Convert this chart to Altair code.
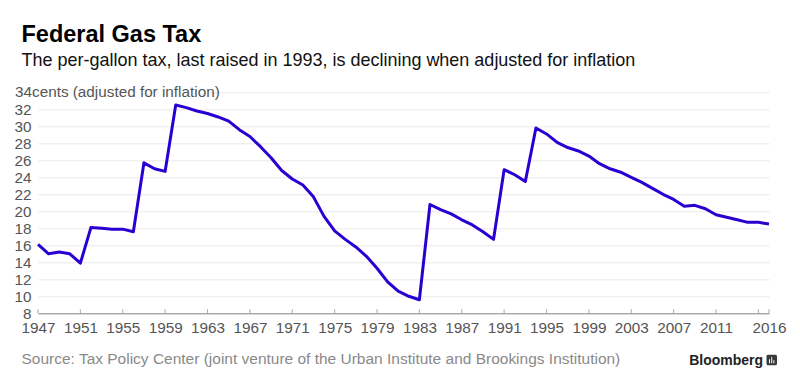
import altair as alt
import pandas as pd

years = list(range(1947, 2017))
cents = [16.1, 15.0, 15.2, 15.0, 13.9, 18.1, 18.0, 17.9, 17.9, 17.6,
         25.7, 25.0, 24.7, 32.5, 32.2, 31.8, 31.5, 31.1, 30.6, 29.6,
         28.8, 27.6, 26.3, 24.8, 23.8, 23.1, 21.7, 19.4, 17.7, 16.7,
         15.8, 14.7, 13.3, 11.7, 10.6, 10.0, 9.6, 20.8, 20.2, 19.7,
         19.0, 18.4, 17.6, 16.7, 24.9, 24.3, 23.5, 29.8, 29.1, 28.1,
         27.5, 27.1, 26.5, 25.6, 25.0, 24.6, 24.0, 23.4, 22.7, 22.0,
         21.4, 20.6, 20.7, 20.3, 19.6, 19.3, 19.0, 18.7, 18.7, 18.5]

x_ticks = list(range(1947, 2016, 4)) + [2016]
y_ticks = list(range(8, 35, 2))

title_text = "Federal Gas Tax"
subtitle_text = "The per-gallon tax, last raised in 1993, is declining when adjusted for inflation"
unit_text = "34cents (adjusted for inflation)"
source_text = "Source: Tax Policy Center (joint venture of the Urban Institute and Brookings Institution)"
brand_text = "Bloomberg"

FONT = "Liberation Sans"
W, H = 731, 221
LBL = 15.3

df = pd.DataFrame({"year": years, "cents": cents})

xscale = alt.Scale(domain=[1947, 2016], nice=False, zero=False)
yscale = alt.Scale(domain=[8, 34], nice=False, zero=False)

xaxis = alt.Axis(values=x_ticks, format="d", grid=False,
                 labelExpr="datum.value == 2015 ? '' : datum.label",
                 tickSize=0, labelPadding=7.5, labelFlush=False,
                 labelOverlap=False,
                 domainColor="#8a8a8a", labelColor="#555555",
                 labelFontSize=LBL, labelFont=FONT)
yaxis = alt.Axis(values=y_ticks, domain=False, ticks=False,
                 labelExpr="datum.value == 34 ? '' : datum.label",
                 labelOverlap=False,
                 gridColor="#e9e9e9", gridWidth=1,
                 labelPadding=7, labelColor="#555555",
                 labelFontSize=LBL, labelFont=FONT)

line = alt.Chart(df).mark_line(color="#2a00d2", strokeWidth=3, strokeJoin="round").encode(
    x=alt.X("year:Q", scale=xscale, title=None, axis=xaxis),
    y=alt.Y("cents:Q", scale=yscale, title=None, axis=yaxis),
)

tick_df = pd.DataFrame({"year": x_ticks, "cents": [8] * len(x_ticks)})
ticks = alt.Chart(tick_df).mark_tick(color="#8a8a8a", thickness=1, size=4, yOffset=-2).encode(
    x=alt.X("year:Q", scale=xscale, title=None, axis=xaxis),
    y=alt.Y("cents:Q", scale=yscale, title=None, axis=yaxis),
)

unit_df = pd.DataFrame({"cents": [34], "t": [unit_text]})
unit_bg = alt.Chart(unit_df).mark_rect(color="white").encode(
    x=alt.value(-1), x2=alt.value(172), y=alt.value(-6), y2=alt.value(6))
unit_lbl = alt.Chart(unit_df).mark_text(align="left", baseline="middle", font=FONT,
                                        fontSize=LBL, color="#555555").encode(
    x=alt.value(-23), y=alt.Y("cents:Q", scale=yscale, title=None, axis=yaxis), text="t:N")


def txt(s, x, y, size, color, weight="normal", align="left"):
    d = pd.DataFrame({"t": [s]})
    return alt.Chart(d).mark_text(align=align, baseline="alphabetic", font=FONT,
                                  fontSize=size, fontWeight=weight, color=color).encode(
        x=alt.value(x), y=alt.value(y), text="t:N")


def box(x, x2, y, y2, color, r=0):
    d = pd.DataFrame({"a": [0]})
    return alt.Chart(d).mark_rect(color=color, cornerRadius=r).encode(
        x=alt.value(x), x2=alt.value(x2), y=alt.value(y), y2=alt.value(y2))


title = txt(title_text, -16.5, -50.6, 23.5, "#000000", "bold")
subtitle = txt(subtitle_text, -16.5, -26.6, 18, "#111111")
source = txt(source_text, -16.5, 272.2, 15.5, "#8a8a8a")
brand = txt(brand_text, 725, 272.4, 14, "#222222", "bold", "right")
icon = box(728.5, 739, 262.5, 273, "#3a3a3a", 1.5)
bar1 = box(731, 732, 267, 271, "white")
bar2 = box(733.2, 734.2, 265, 271, "white")
bar3 = box(735.4, 736.4, 268, 271, "white")

chart = alt.layer(line, ticks, unit_bg, unit_lbl, title, subtitle, source, brand,
                  icon, bar1, bar2, bar3).properties(
    width=W, height=H,
    autosize=alt.AutoSizeParams(type="none"),
    padding={"left": 30, "top": 84.3, "right": 23, "bottom": 60},
).configure_view(stroke=None)

chart.save("out.html", embed_options={"renderer": "svg", "actions": False})
